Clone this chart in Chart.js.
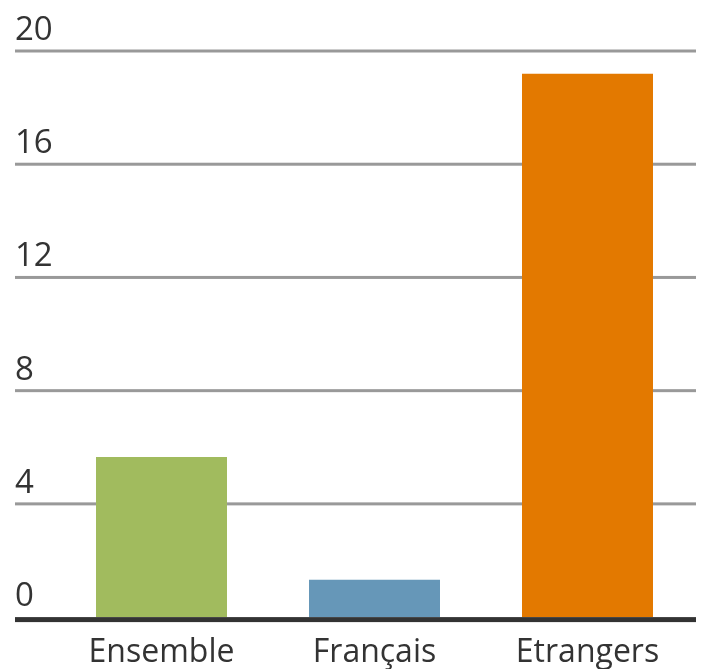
<!DOCTYPE html>
<html>
<head>
<meta charset="utf-8">
<script src="https://cdn.jsdelivr.net/npm/chart.js@4"></script>
<style>
  html, body { margin: 0; padding: 0; background: #fff; overflow: hidden; }
  #wrap { width: 702px; height: 700px; position: relative; }
</style>
</head>
<body>
<div id="wrap"><canvas id="c"></canvas></div>
<script>
// catégories et valeurs
const categories = ['Ensemble', 'Français', 'Etrangers'];
const values = [5.66, 1.32, 19.2];
const barColors = ['#a1bb5e', '#6697b8', '#e37900'];
const yTicks = [0, 4, 8, 12, 16, 20];

const FONT = '"Open Sans", "Noto Sans", sans-serif';

// grille + étiquettes de l'axe y, dessinées à gauche au-dessus des lignes
const gridPlugin = {
    id: 'gridPlugin',
    beforeDatasetsDraw(chart) {
        const ctx = chart.ctx;
        const y = chart.scales.y;
        const left = 15, right = 696;
        ctx.save();
        ctx.font = '33px ' + FONT;
        ctx.textAlign = 'left';
        ctx.textBaseline = 'alphabetic';
        yTicks.forEach(v => {
            const py = y.getPixelForValue(v);
            if (v !== 0) {
                ctx.fillStyle = '#999';
                ctx.fillRect(left, py - 1.5, right - left, 3);
            }
            ctx.fillStyle = '#333';
            ctx.fillText(String(v), left, py - 11);
        });
        ctx.restore();
    },
    afterDatasetsDraw(chart) {
        // ligne de base épaisse
        const ctx = chart.ctx;
        const py = chart.scales.y.getPixelForValue(0);
        ctx.save();
        ctx.fillStyle = '#333';
        ctx.fillRect(15, py, 681, 5);
        ctx.restore();
    }
};

new Chart(document.getElementById('c'), {
    type: 'bar',
    data: {
        labels: categories,
        datasets: [{
            data: values,
            backgroundColor: barColors,
            borderWidth: 0,
            barPercentage: 0.615,
            categoryPercentage: 1
        }]
    },
    options: {
        responsive: true,
        maintainAspectRatio: false,
        animation: false,
        layout: { padding: { left: 55, right: 8, top: 51, bottom: 10.5 } },
        plugins: { legend: { display: false }, tooltip: { enabled: false } },
        scales: {
            x: {
                grid: { display: false, drawTicks: false },
                border: { display: false },
                ticks: { color: '#333', font: { family: FONT, size: 32 }, padding: 17 }
            },
            y: {
                display: false,
                min: 0,
                max: 20
            }
        }
    },
    plugins: [gridPlugin]
});
</script>
</body>
</html>
